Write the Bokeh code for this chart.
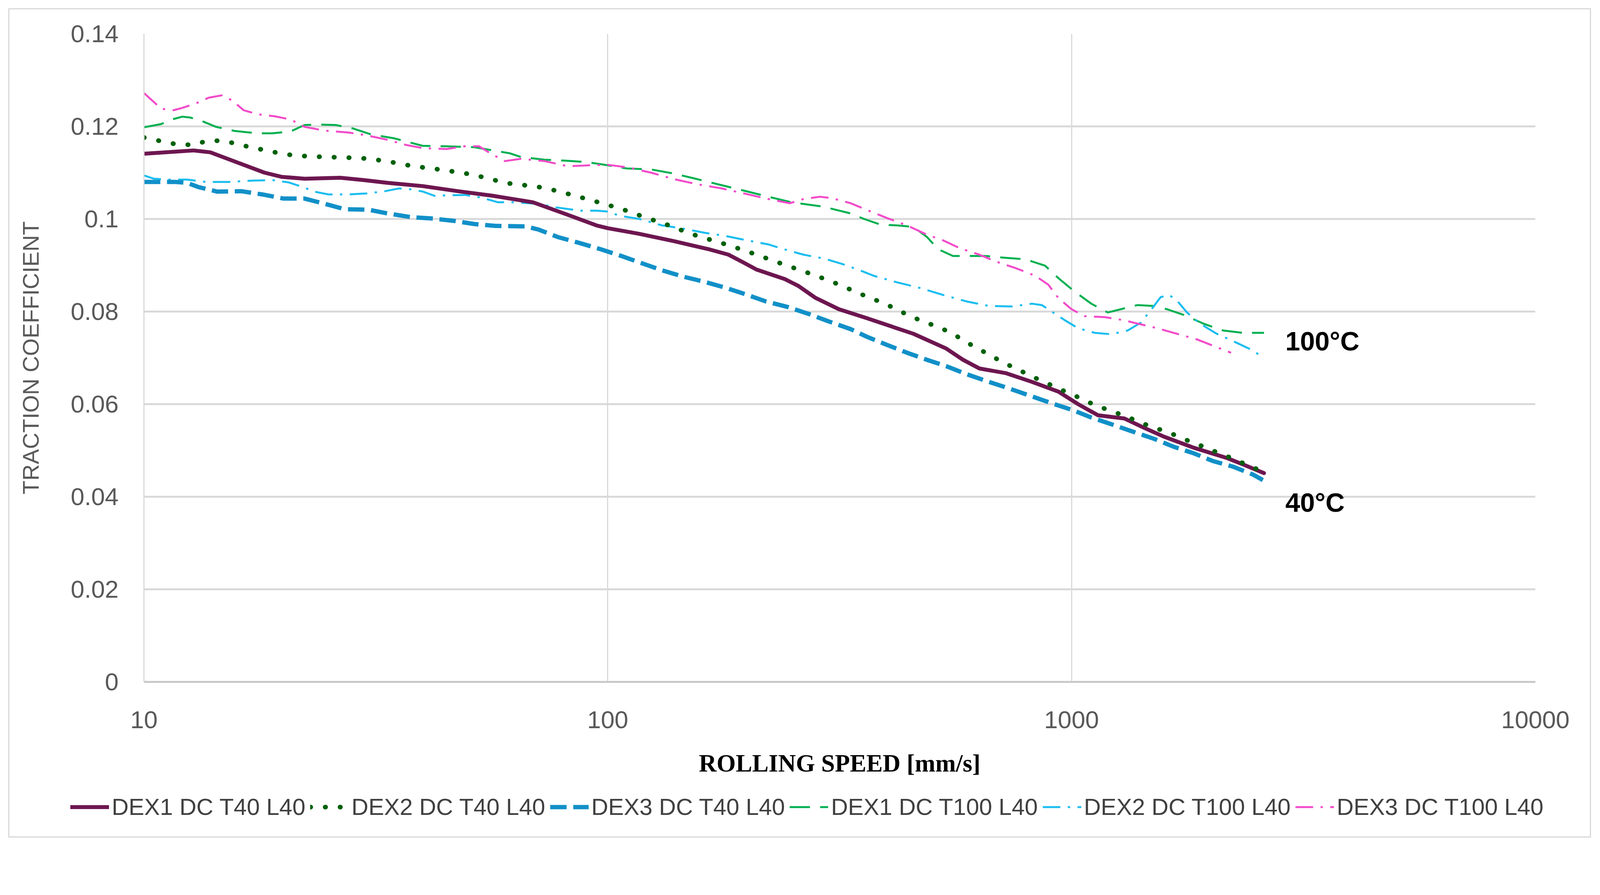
from bokeh.plotting import figure
from bokeh.layouts import column
from bokeh.models import Range1d, FixedTicker, CustomJSTickFormatter, Legend, LegendItem
from bokeh.core.properties import value
from bokeh.embed import file_html
from bokeh.resources import INLINE

# rolling speed [mm/s] and traction coefficient
dex1_t40_speed = [10, 12.8, 13.9, 16, 18.2, 19.8, 22.2, 26.5, 29.8, 33.5,
                  39.9, 47.5, 56.6, 69, 82, 94.6, 100, 116.7, 139, 166,
                  182, 197, 209, 241, 258, 280, 315, 361, 456, 537,
                  583, 633, 721, 822, 937, 1033, 1140, 1300, 1433, 1580,
                  1832, 2157, 2340, 2600]
dex1_t40 = [0.1141, 0.1148, 0.1144, 0.1121, 0.1100, 0.1091, 0.1087, 0.1089, 0.1084, 0.1078,
            0.1071, 0.1060, 0.1050, 0.1036, 0.1009, 0.0986, 0.0980, 0.0968, 0.0952, 0.0934,
            0.0923, 0.0905, 0.0891, 0.0870, 0.0855, 0.0830, 0.0805, 0.0786, 0.0752, 0.0720,
            0.0696, 0.0677, 0.0667, 0.0648, 0.0627, 0.0600, 0.0576, 0.0569, 0.0549, 0.0530,
            0.0506, 0.0484, 0.0470, 0.0451]

dex2_t40_speed = [10, 11, 11.8, 12.8, 13.7, 14.8, 15.9, 17.1, 18.4, 19.8,
                  21.2, 22.9, 26.5, 28.4, 30.7, 33.1, 35.5, 38, 41, 44,
                  47.5, 51, 55, 59, 63.5, 68.5, 73.6, 79, 85, 91,
                  98, 105, 113, 121, 130, 139, 149, 160, 172, 184,
                  197, 212, 227, 244, 261, 280, 300, 321, 343, 367,
                  394, 421, 449, 483, 515, 553, 588, 628, 670, 714,
                  764, 815, 875, 933, 1000, 1067, 1143, 1227, 1315, 1409,
                  1507, 1622, 1730, 1854, 1986, 2123, 2350, 2600]
dex2_t40 = [0.1176, 0.1167, 0.1161, 0.1160, 0.1169, 0.1169, 0.1162, 0.1154, 0.1148, 0.1141,
            0.1137, 0.1135, 0.1133, 0.1132, 0.1130, 0.1125, 0.1120, 0.1114, 0.1110, 0.1106,
            0.1101, 0.1096, 0.1088, 0.1080, 0.1074, 0.1072, 0.1066, 0.1059, 0.1050, 0.1042,
            0.1033, 0.1024, 0.1014, 0.1002, 0.0993, 0.0982, 0.0970, 0.0960, 0.0951, 0.0942,
            0.0932, 0.0921, 0.0910, 0.0899, 0.0889, 0.0878, 0.0867, 0.0855, 0.0842, 0.0830,
            0.0818, 0.0804, 0.0790, 0.0777, 0.0767, 0.0753, 0.0736, 0.0720, 0.0705, 0.0689,
            0.0676, 0.0661, 0.0648, 0.0634, 0.0622, 0.0608, 0.0595, 0.0584, 0.0573, 0.0560,
            0.0549, 0.0539, 0.0526, 0.0515, 0.0502, 0.0491, 0.0472, 0.0453]

dex3_t40_speed = [10, 11, 11.7, 12.4, 13.1, 14.4, 16.2, 18, 20, 22.2,
                  24.7, 27.1, 30.5, 33.5, 37.6, 41.8, 46.5, 51.6, 57.3, 66.5,
                  71, 78, 87, 97, 107, 118, 131, 146, 162, 180,
                  200, 219, 244, 271, 297, 334, 363, 400, 442, 487,
                  537, 593, 664, 733, 809, 906, 1000, 1104, 1216, 1343,
                  1507, 1660, 1832, 2018, 2228, 2460, 2585]
dex3_t40 = [0.1080, 0.1080, 0.1080, 0.1078, 0.1069, 0.1059, 0.1060, 0.1053, 0.1044, 0.1044,
            0.1032, 0.1021, 0.1020, 0.1012, 0.1004, 0.1001, 0.0996, 0.0989, 0.0985, 0.0984,
            0.0977, 0.0961, 0.0948, 0.0934, 0.0920, 0.0905, 0.0889, 0.0875, 0.0864, 0.0851,
            0.0836, 0.0822, 0.0810, 0.0795, 0.0780, 0.0762, 0.0745, 0.0728, 0.0711, 0.0696,
            0.0682, 0.0665, 0.0648, 0.0634, 0.0619, 0.0602, 0.0588, 0.0571, 0.0557, 0.0542,
            0.0525, 0.0508, 0.0494, 0.0477, 0.0465, 0.0448, 0.0436]

dex1_t100_speed = [10, 10.9, 11.4, 12.1, 12.6, 13.3, 14.3, 15.7, 17.6, 18.9,
                   20.7, 22.2, 23.9, 25.9, 28.1, 30.8, 34.7, 39.9, 44.9, 51.6,
                   56.6, 61.4, 65, 73, 81, 90, 100, 110, 124, 139,
                   156, 176, 197, 222, 249, 290, 334, 357, 387, 421,
                   456, 488, 515, 555, 593, 653, 721, 795, 877, 937,
                   1016, 1103, 1197, 1300, 1388, 1506, 1607, 1743, 1923, 2123,
                   2340, 2600]
dex1_t100 = [0.1198, 0.1205, 0.1214, 0.1221, 0.1219, 0.1212, 0.1199, 0.1190, 0.1185, 0.1185,
             0.1189, 0.1203, 0.1204, 0.1203, 0.1196, 0.1183, 0.1174, 0.1158, 0.1157, 0.1155,
             0.1148, 0.1142, 0.1134, 0.1128, 0.1126, 0.1123, 0.1116, 0.1109, 0.1107, 0.1098,
             0.1086, 0.1073, 0.1061, 0.1048, 0.1036, 0.1027, 0.1012, 0.1000, 0.0988, 0.0986,
             0.0983, 0.0961, 0.0935, 0.0920, 0.0920, 0.0920, 0.0916, 0.0913, 0.0899, 0.0872,
             0.0843, 0.0817, 0.0798, 0.0807, 0.0814, 0.0812, 0.0805, 0.0793, 0.0774, 0.0759,
             0.0754, 0.0754]

dex2_t100_speed = [10, 10.5, 11.3, 12.4, 13.6, 15.3, 17.2, 18.9, 20.5, 22,
                   23.3, 25, 27.5, 30.1, 33.1, 35.5, 37.7, 40, 42.3, 45.4,
                   49.2, 53.5, 58, 63.5, 71.4, 77.4, 87, 94.6, 100, 106,
                   117, 131, 144, 162, 178, 197, 222, 241, 264, 294,
                   322, 350, 375, 421, 471, 528, 593, 664, 745, 822,
                   863, 906, 968, 1033, 1122, 1217, 1321, 1410, 1480, 1556,
                   1622, 1687, 1774, 1892, 2056, 2265, 2460, 2600]
dex2_t100 = [0.1094, 0.1087, 0.1085, 0.1085, 0.1080, 0.1080, 0.1083, 0.1084, 0.1079, 0.1069,
             0.1059, 0.1053, 0.1053, 0.1055, 0.1060, 0.1066, 0.1064, 0.1059, 0.1050, 0.1051,
             0.1052, 0.1046, 0.1036, 0.1036, 0.1032, 0.1025, 0.1018, 0.1018, 0.1016, 0.1007,
             0.1000, 0.0986, 0.0980, 0.0970, 0.0964, 0.0955, 0.0945, 0.0934, 0.0923, 0.0914,
             0.0902, 0.0889, 0.0877, 0.0863, 0.0851, 0.0836, 0.0822, 0.0812, 0.0811, 0.0817,
             0.0814, 0.0800, 0.0781, 0.0764, 0.0754, 0.0751, 0.0759, 0.0776, 0.0802, 0.0831,
             0.0836, 0.0824, 0.0798, 0.0774, 0.0752, 0.0733, 0.0716, 0.0699]

dex3_t100_speed = [10, 10.9, 11.6, 12.1, 12.9, 13.8, 14.7, 15.5, 16.4, 17.6,
                   19.1, 20.7, 22.2, 23.6, 25, 27.5, 30.1, 33.5, 36.7, 39.9,
                   44.9, 49.2, 52.8, 56, 60, 65, 73, 82, 92, 100,
                   111, 124, 139, 156, 176, 197, 222, 247, 264, 287,
                   304, 334, 363, 400, 442, 488, 528, 574, 632, 687,
                   757, 836, 891, 937, 1000, 1067, 1178, 1300, 1387, 1531,
                   1687, 1862, 2056, 2208]
dex3_t100 = [0.1272, 0.1238, 0.1235, 0.1240, 0.1249, 0.1262, 0.1267, 0.1256, 0.1235, 0.1226,
             0.1222, 0.1215, 0.1199, 0.1194, 0.1190, 0.1187, 0.1181, 0.1171, 0.1160, 0.1153,
             0.1151, 0.1157, 0.1157, 0.1141, 0.1125, 0.1130, 0.1125, 0.1114, 0.1116, 0.1117,
             0.1111, 0.1100, 0.1086, 0.1075, 0.1066, 0.1055, 0.1043, 0.1034, 0.1043, 0.1048,
             0.1045, 0.1034, 0.1019, 0.1002, 0.0986, 0.0966, 0.0954, 0.0937, 0.0923, 0.0908,
             0.0894, 0.0877, 0.0858, 0.0829, 0.0805, 0.0790, 0.0788, 0.0781, 0.0774, 0.0764,
             0.0752, 0.0740, 0.0723, 0.0711]

x_ticks = [10, 100, 1000, 10000]
y_ticks = [0, 0.02, 0.04, 0.06, 0.08, 0.1, 0.12, 0.14]

temp_labels = ["100°C", "40°C"]
temp_label_speed = [2890, 2890]
temp_label_value = [0.0736, 0.0388]

TICK_COLOR = "#595959"
GRID_COLOR = "#D9D9D9"
WIDTH = 4046

p = figure(width=WIDTH, height=2006,
           x_axis_type="log",
           x_range=Range1d(10, 10000), y_range=Range1d(0, 0.14),
           output_backend="svg", toolbar_location=None,
           min_border_left=344, min_border_right=140,
           min_border_top=62, min_border_bottom=285)
p.frame_align = False
p.outline_line_color = None
p.background_fill_color = "white"

# axes
tick_fmt = CustomJSTickFormatter(code="return String(tick);")
p.xaxis.ticker = FixedTicker(ticks=x_ticks)
p.yaxis.ticker = FixedTicker(ticks=y_ticks)
p.xaxis.formatter = tick_fmt
p.yaxis.formatter = tick_fmt
for ax in (p.xaxis, p.yaxis):
    ax.major_tick_line_color = None
    ax.minor_tick_line_color = None
    ax.major_label_text_font = "Liberation Sans"
    ax.major_label_text_font_size = "63px"
    ax.major_label_text_color = TICK_COLOR
p.xaxis.axis_line_color = "#C8C8C8"
p.xaxis.axis_line_width = 5
p.yaxis.axis_line_color = GRID_COLOR
p.yaxis.axis_line_width = 3
p.xaxis.major_label_standoff = 69
p.yaxis.major_label_standoff = 59

p.xaxis.axis_label = "ROLLING SPEED [mm/s]"
p.xaxis.axis_label_text_font = "Liberation Serif"
p.xaxis.axis_label_text_font_style = "bold"
p.xaxis.axis_label_text_font_size = "63px"
p.xaxis.axis_label_text_color = "black"
p.xaxis.axis_label_standoff = 52

p.yaxis.axis_label = "TRACTION COEFFICIENT"
p.yaxis.axis_label_text_font = "Liberation Sans"
p.yaxis.axis_label_text_font_style = "normal"
p.yaxis.axis_label_text_font_size = "58px"
p.yaxis.axis_label_text_color = TICK_COLOR
p.yaxis.axis_label_standoff = 67

p.xgrid.ticker = FixedTicker(ticks=x_ticks)
p.ygrid.ticker = FixedTicker(ticks=y_ticks)
p.xgrid.grid_line_color = GRID_COLOR
p.xgrid.grid_line_width = 3
p.ygrid.grid_line_color = GRID_COLOR
p.ygrid.grid_line_width = 5

# series: (label, x, y, colour, width, dash, cap)
series = [
    ("DEX1 DC T100 L40", dex1_t100_speed, dex1_t100, "#00B050", 5, "52 26", "butt"),
    ("DEX2 DC T100 L40", dex2_t100_speed, dex2_t100, "#19BDF0", 5, "45 19 6 19", "butt"),
    ("DEX3 DC T100 L40", dex3_t100_speed, dex3_t100, "#F24BC9", 5, "45 19 6 19", "butt"),
    ("DEX3 DC T40 L40", dex3_t40_speed, dex3_t40, "#1190C8", 11, "42 17", "butt"),
    ("DEX1 DC T40 L40", dex1_t40_speed, dex1_t40, "#6D1650", 10, "solid", "round"),
    ("DEX2 DC T40 L40", dex2_t40_speed, dex2_t40, "#00610A", 12, "1 37", "round"),
]
for name, xs, ys, color, w, dash, cap in series:
    p.line(xs, ys, line_color=color, line_width=w,
           line_dash=dash, line_cap=cap, line_join="round")

p.text(x=temp_label_speed, y=temp_label_value, text=temp_labels,
       text_font=value("Liberation Sans"), text_font_style="bold",
       text_font_size="68px", text_color="black",
       text_align="left", text_baseline="middle")

# legend strip under the chart (a legend inside the main frame would be clipped);
# its lines carry the same data but fall outside this strip's ranges
lg = figure(width=WIDTH, height=111, x_range=Range1d(0, 1), y_range=Range1d(0, 1),
            x_axis_location=None, y_axis_location=None,
            output_backend="svg", toolbar_location=None,
            min_border=0, min_border_left=0, min_border_right=0,
            min_border_top=0, min_border_bottom=0, outline_line_color=None)
lg.frame_align = False
lg.grid.visible = False
legend_renderers = {}
for name, xs, ys, color, w, dash, cap in series:
    legend_renderers[name] = lg.line(xs, ys, line_color=color, line_width=w,
                                     line_dash=dash, line_cap=cap)

legend_order = ["DEX1 DC T40 L40", "DEX2 DC T40 L40", "DEX3 DC T40 L40",
                "DEX1 DC T100 L40", "DEX2 DC T100 L40", "DEX3 DC T100 L40"]
legend = Legend(items=[LegendItem(label=n, renderers=[legend_renderers[n]]) for n in legend_order],
                orientation="horizontal", location=(156, 41),
                label_text_font="Liberation Sans", label_text_font_size="60px",
                label_text_color="#404040",
                glyph_width=99, glyph_height=57, label_height=57,
                label_standoff=7, spacing=12, padding=0, margin=0,
                border_line_color=None, background_fill_alpha=0)
lg.add_layout(legend)

# thin grey frame round the whole chart
layout = column(p, lg, spacing=0, margin=(24, 0, 0, 24),
                styles={"outline": "3px solid #D9D9D9"})

open("out.html", "w").write(file_html(layout, INLINE))
